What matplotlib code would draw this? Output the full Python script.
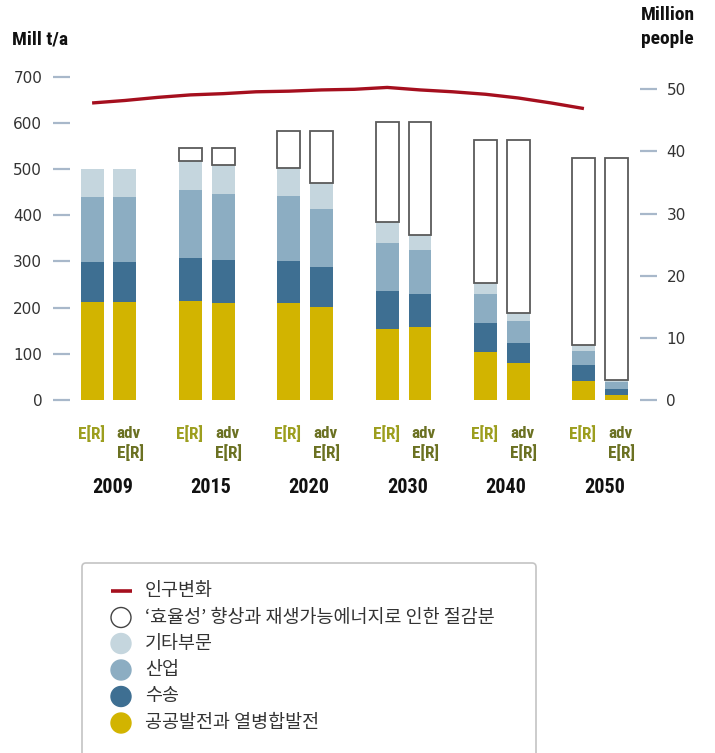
import numpy as np
import matplotlib.pyplot as plt
from matplotlib.patches import FancyBboxPatch, Circle

# ------------------------------------------------------------
# data
# ------------------------------------------------------------
years = ["2009", "2015", "2020", "2030", "2040", "2050"]

# E[R] scenario, Mill t/a
er_power = [212, 214, 210, 154, 105, 42]
er_transport = [86, 93, 92, 81, 62, 33]
er_industry = [142, 147, 140, 106, 63, 32]
er_other = [60, 64, 61, 44, 24, 12]
er_savings = [0, 27, 79, 218, 310, 406]

# advanced E[R] scenario, Mill t/a
adv_power = [212, 210, 202, 159, 80, 11]
adv_transport = [86, 93, 85, 70, 43, 12]
adv_industry = [142, 142, 127, 95, 49, 15]
adv_other = [60, 63, 56, 34, 16, 5]
adv_savings = [0, 37, 112, 245, 376, 482]

# population, million people (one point per bar slot, 2009 -> 2050)
population = [47.8, 48.2, 48.7, 49.1, 49.3, 49.6, 49.7, 49.9,
              50.0, 50.3, 49.9, 49.6, 49.2, 48.6, 47.8, 46.9]

left_ticks = [0, 100, 200, 300, 400, 500, 600, 700]
right_ticks = [0, 10, 20, 30, 40, 50]

legend_labels = ["인구변화",
                 "‘효율성’ 향상과 재생가능에너지로 인한 절감분",
                 "기타부문", "산업", "수송", "공공발전과 열병합발전"]

C_POWER = "#d2b400"
C_TRANSPORT = "#3e6f92"
C_INDUSTRY = "#8cadc2"
C_OTHER = "#c5d6de"
C_LINE = "#a50f1e"
C_TICK = "#a8b8ca"
C_TEXT = "#333333"
OLIVE_LIGHT = "#9c9e1e"
OLIVE_DARK = "#6b7122"

NARROW = ["Roboto Condensed", "DejaVu Sans"]
KR = ["Noto Sans CJK KR", "DejaVu Sans"]

W, H = 715, 753
fig = plt.figure(figsize=(W / 100, H / 100), dpi=100)

# axes box in pixels: left 70, right 640, top 76.7 (=700), bottom 400 (=0)
ax = fig.add_axes([70 / W, 1 - 400 / H, (640 - 70) / W, (400 - 76.7) / H])
ax2 = ax.twinx()

g = np.arange(len(years)) * 3.0
x1 = g - 0.5
x2 = g + 0.5
bw = 0.70


def stack(x, parts, colors):
    bottom = np.zeros(len(x))
    for vals, col in zip(parts, colors):
        ax.bar(x, vals, bw, bottom=bottom, color=col, linewidth=0, zorder=2)
        bottom += np.array(vals)
    return bottom


seg_colors = [C_POWER, C_TRANSPORT, C_INDUSTRY, C_OTHER]
b1 = stack(x1, [er_power, er_transport, er_industry, er_other], seg_colors)
b2 = stack(x2, [adv_power, adv_transport, adv_industry, adv_other], seg_colors)

for x, bot, sav in [(x1, b1, er_savings), (x2, b2, adv_savings)]:
    sav = np.array(sav)
    m = sav > 0
    ax.bar(x[m], sav[m], bw, bottom=bot[m], facecolor="white",
           edgecolor="#5a5a5a", linewidth=1.3, zorder=3)

ax.set_xlim(-1.174, 16.21)
ax.set_ylim(0, 700)
ax.set_yticks(left_ticks)
ax.set_xticks([])

ax2.plot(np.arange(len(population)) - 0.5, population, color=C_LINE,
         lw=2.4, solid_capstyle="butt", zorder=5)
ax2.set_ylim(0, (400 - 76.7) / 6.214)
ax2.set_yticks(right_ticks)

for a in (ax, ax2):
    for s in a.spines.values():
        s.set_visible(False)
    a.tick_params(axis="y", length=12, width=1.6, color=C_TICK,
                  labelcolor=C_TEXT, labelsize=11, pad=8)
ax2.tick_params(axis="y", pad=7)

# scenario labels and years under each group
xt = ax.get_xaxis_transform()
for i, yr in enumerate(years):
    ax.text(x1[i] - 0.03, -0.104, "E[R]", transform=xt, ha="center", va="center",
            fontsize=12.3, fontweight="bold", color=OLIVE_LIGHT, family=NARROW)
    ax.text(x2[i] + 0.12, -0.104, "adv", transform=xt, ha="center", va="center",
            fontsize=12.3, fontweight="bold", color=OLIVE_DARK, family=NARROW)
    ax.text(x2[i] + 0.16, -0.162, "E[R]", transform=xt, ha="center", va="center",
            fontsize=12.3, fontweight="bold", color=OLIVE_DARK, family=NARROW)
    ax.text(g[i] + 0.12, -0.271, yr, transform=xt, ha="center", va="center",
            fontsize=14.5, fontweight="bold", color="#111111", family=NARROW)

# axis titles
fig.text(12 / W, 1 - 39 / H, "Mill t/a", ha="left", va="center",
         fontsize=14, fontweight="bold", color="#111111", family=NARROW)
fig.text(641 / W, 1 - 15.5 / H, "Million", ha="left", va="center",
         fontsize=14, fontweight="bold", color="#111111", family=NARROW)
fig.text(641 / W, 1 - 39 / H, "people", ha="left", va="center",
         fontsize=14, fontweight="bold", color="#111111", family=NARROW)

# legend, drawn in pixel space
lg = fig.add_axes([0, 0, 1, 1], zorder=-1)
lg.set_xlim(0, W)
lg.set_ylim(H, 0)
lg.axis("off")
lg.add_patch(FancyBboxPatch((82, 563), 454, 210, boxstyle="round,pad=0,rounding_size=4",
                            facecolor="white", edgecolor="#c4c4c4", linewidth=1.2))
rows = [591, 617.5, 643.5, 670, 696.5, 723]
lg.plot([111, 132], [rows[0], rows[0]], color=C_LINE, lw=2.6, solid_capstyle="butt")
circle_styles = [("white", "#444444"), (C_OTHER, C_OTHER), (C_INDUSTRY, C_INDUSTRY),
                 (C_TRANSPORT, C_TRANSPORT), (C_POWER, C_POWER)]
for y, (fc, ec) in zip(rows[1:], circle_styles):
    lg.add_patch(Circle((121, y), 10, facecolor=fc, edgecolor=ec, linewidth=1.0))
for y, lab in zip(rows, legend_labels):
    lg.text(145, y, lab, ha="left", va="center", fontsize=13.3, color=C_TEXT, family=KR)

fig.savefig("out.png", dpi=100)
